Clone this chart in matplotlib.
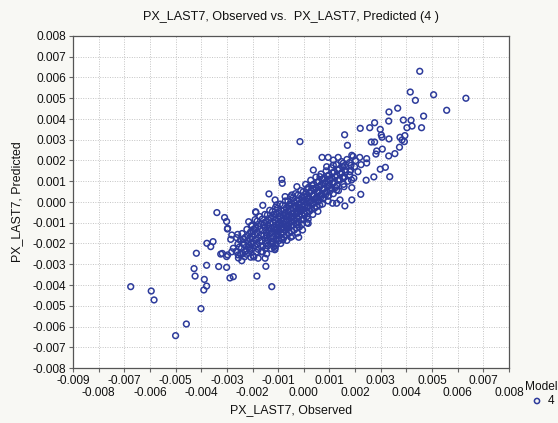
import numpy as np
import matplotlib
matplotlib.use("Agg")
import matplotlib.pyplot as plt

plt.rcParams['font.family'] = ['Liberation Sans', 'DejaVu Sans']

# ---------------- data (values in units of 0.001) ----------------
observed_milli = [
    # lower-left outliers
    -6.75, -5.95, -5.84, -5.00, -4.58, -4.01, -4.28, -4.24, -4.19, -3.88, -3.79, -3.90,
    -3.79, -3.78, -3.63, -3.54, -3.39, -3.09, -3.01, -2.98, -3.32, -3.01, -2.88, -2.75,
    -3.24, -3.18, -3.01, -2.85, -1.83, -1.87, -1.48, -1.25,
    -2.56, -2.81, -2.29, -2.10, -1.78, -1.51, -1.12, -2.75, -2.97, -2.58, -2.81, -2.97,
    -1.88, -0.86, -0.84, -1.36, -1.60, -1.10, -0.82, -0.51, -0.20,
    -1.12, -1.06, -0.73, -0.47, -0.27,
    # core
    -2.62, -2.57, -2.64, -2.55,
    -2.48, -2.52, -2.46,
    -2.41, -2.37, -2.43, -2.38, -2.42,
    -2.28, -2.33, -2.27, -2.31,
    -2.22, -2.18, -2.21, -2.16, -2.23,
    -2.08, -2.12, -2.06, -2.11, -2.07,
    -2.02, -1.97, -2.01, -1.96, -2.03, -1.98,
    -1.88, -1.92, -1.87, -1.91, -1.86,
    -1.82, -1.77, -1.81, -1.76, -1.83, -1.78,
    -1.68, -1.72, -1.67, -1.71, -1.66,
    -1.62, -1.57, -1.61, -1.56, -1.63, -1.58, -1.61,
    -1.48, -1.52, -1.47, -1.51, -1.46, -1.50,
    -1.42, -1.37, -1.41, -1.36, -1.43, -1.38, -1.41,
    -1.28, -1.32, -1.27, -1.31, -1.26, -1.30,
    -1.22, -1.17, -1.21, -1.16, -1.23, -1.18, -1.21, -1.17,
    -1.08, -1.12, -1.07, -1.11, -1.06, -1.10, -1.08,
    -1.02, -0.97, -1.01, -0.96, -1.03, -0.98, -1.01, -0.97,
    -0.88, -0.92, -0.87, -0.91, -0.86, -0.90, -0.88,
    -0.82, -0.77, -0.81, -0.76, -0.83, -0.78, -0.81, -0.77,
    -0.68, -0.72, -0.67, -0.71, -0.66, -0.70, -0.68,
    -0.62, -0.57, -0.61, -0.56, -0.63, -0.58, -0.61, -0.57,
    -0.48, -0.52, -0.47, -0.51, -0.46, -0.50, -0.48,
    -0.42, -0.37, -0.41, -0.36, -0.43, -0.38, -0.41, -0.37,
    -0.28, -0.32, -0.27, -0.31, -0.26, -0.30, -0.28,
    -0.22, -0.17, -0.21, -0.16, -0.23, -0.18, -0.21, -0.17,
    -0.08, -0.12, -0.07, -0.11, -0.06, -0.10, -0.08,
    -0.02, 0.03, -0.01, 0.04, -0.03, 0.02, -0.01,
    0.12, 0.08, 0.13, 0.09, 0.14, 0.10, 0.12,
    0.18, 0.23, 0.19, 0.24, 0.17, 0.22, 0.17, 0.17,
    0.32, 0.28, 0.33, 0.29, 0.34, 0.30,
    0.38, 0.43, 0.39, 0.44, 0.37, 0.42,
    0.52, 0.48, 0.53, 0.49, 0.54, 0.50,
    0.58, 0.63, 0.59, 0.64, 0.57, 0.62,
    0.72, 0.68, 0.73, 0.69, 0.74,
    0.78, 0.83, 0.79, 0.84, 0.77,
    0.92, 0.88, 0.93, 0.89, 0.94,
    0.98, 1.03, 0.99, 1.04, 0.97,
    1.12, 1.08, 1.13, 1.09,
    1.18, 1.23, 1.19, 1.24,
    1.32, 1.28, 1.33, 1.29,
    1.38, 1.43, 1.39,
    1.52, 1.48, 1.53,
    1.58, 1.63, 1.59,
    1.78, 1.83, 1.79,
    2.02, 1.98,
    2.18, 2.23,
    # core edges
    -2.15, -2.05, -1.90, -1.95, -1.72, -1.66, -1.52, -1.45, -1.33, -1.27, -1.10, -1.13,
    -0.93, -0.90, -0.72, -0.66, -0.52, -0.45, -0.33, -0.25, -0.12, -0.05, 0.07, 0.12,
    0.27, 0.35, 0.47, 0.55, 0.67, 0.73, 0.87, 0.95, 1.07, 1.15, 1.27, 1.35,
    1.47, 1.55, 1.68, 1.72, 1.92, 1.95,
    # core fill
    -1.55, -1.45, -1.35, -1.25, -1.15, -1.05, -0.95, -0.85, -0.75, -0.65, -0.55, -0.45,
    -0.35, -0.25, -0.15, -0.05, 0.05, 0.15, 0.25, 0.35, 0.45, 0.55, 0.65, 0.75,
    0.85, 0.95, 1.05, -2.35, -2.15, -1.95,
    # right of core / upper right
    1.15, 1.54, 1.84, 1.60, 1.80, 1.54, 1.86, 1.57, 1.28, 1.41, 1.12, 1.28,
    0.37, 0.89, 1.15, 0.63, 1.87, 2.22, 1.87, 1.60, 2.43, 2.73, 3.35, 3.18,
    2.98, 2.11, 2.45, 2.45, 1.87, 0.71, 0.95, 1.34, -0.15,
    1.59, 1.70, 2.63, 2.76, 2.84, 2.81, 3.06, 3.73, 3.55, 3.31, 3.32, 3.75,
    3.83, 3.92, 3.94, 2.98, 3.02, 3.05, 2.20, 2.57, 3.31, 2.76, 3.88, 4.18,
    4.02, 4.22, 4.59, 3.32, 3.66, 4.67, 4.35, 4.15, 5.06, 5.57, 6.32, 4.52,
]

predicted_milli = [
    # lower-left outliers
    -4.08, -4.29, -4.72, -6.44, -5.88, -5.14, -3.21, -3.57, -2.47, -3.73, -4.05, -4.24,
    -3.05, -1.99, -2.15, -1.91, -0.51, -0.75, -0.94, -1.30, -3.11, -3.15, -3.66, -3.60,
    -2.51, -2.48, -2.63, -1.80, -3.57, -0.50, -3.10, -4.08,
    -2.55, -2.40, -2.40, -2.23, -2.71, -2.71, -2.23, -2.23, -2.55, -1.56, -1.59, -1.27,
    -0.47, 1.09, 0.90, 0.39, -0.16, -2.11, -1.83, -1.70, -1.70,
    0.10, -0.14, 0.26, 0.34, 0.74,
    # core
    -1.72, -2.02, -2.38, -2.70,
    -1.85, -2.18, -2.52,
    -1.52, -1.95, -2.22, -2.48, -2.83,
    -1.70, -2.05, -2.35, -2.64,
    -1.32, -1.62, -1.88, -2.18, -2.52,
    -1.45, -1.75, -2.02, -2.33, -2.66,
    -1.12, -1.42, -1.68, -1.98, -2.28, -2.58,
    -1.25, -1.55, -1.82, -2.12, -2.42,
    -0.92, -1.18, -1.48, -1.74, -2.02, -2.28,
    -1.05, -1.32, -1.60, -1.88, -2.15,
    -0.82, -1.12, -1.36, -1.62, -1.86, -2.12, -2.40,
    -0.95, -1.22, -1.48, -1.74, -2.00, -2.25,
    -0.62, -0.88, -1.14, -1.38, -1.62, -1.86, -2.12,
    -0.75, -1.02, -1.28, -1.52, -1.76, -2.00,
    -0.45, -0.74, -0.98, -1.22, -1.42, -1.66, -1.90, -2.16,
    -0.58, -0.86, -1.10, -1.32, -1.55, -1.78, -2.02,
    -0.30, -0.56, -0.80, -1.00, -1.22, -1.42, -1.62, -1.86,
    -0.42, -0.68, -0.90, -1.12, -1.32, -1.54, -1.76,
    -0.15, -0.40, -0.62, -0.82, -1.02, -1.22, -1.46, -1.70,
    -0.28, -0.52, -0.72, -0.94, -1.14, -1.36, -1.58,
    0.05, -0.20, -0.44, -0.66, -0.86, -1.06, -1.26, -1.50,
    -0.08, -0.32, -0.55, -0.76, -0.96, -1.16, -1.40,
    0.20, -0.05, -0.30, -0.50, -0.70, -0.90, -1.10, -1.35,
    0.08, -0.18, -0.40, -0.60, -0.80, -1.02, -1.25,
    0.35, 0.10, -0.10, -0.30, -0.50, -0.70, -0.95, -1.20,
    0.22, -0.02, -0.22, -0.42, -0.62, -0.86, -1.08,
    0.50, 0.25, 0.05, -0.15, -0.35, -0.55, -0.80,
    0.62, 0.38, 0.15, -0.05, -0.26, -0.48, -0.70,
    0.70, 0.45, 0.20, 0.00, -0.20, -0.45, -0.83, -1.03,
    0.80, 0.55, 0.30, 0.08, -0.12, -0.35,
    0.85, 0.60, 0.35, 0.15, -0.05, -0.30,
    0.95, 0.70, 0.45, 0.22, 0.02, -0.22,
    1.00, 0.75, 0.50, 0.30, 0.10, -0.15,
    1.10, 0.85, 0.60, 0.38, 0.15,
    1.15, 0.90, 0.65, 0.45, 0.20,
    1.25, 1.00, 0.75, 0.50, 0.28,
    1.30, 1.05, 0.80, 0.55, 0.30,
    1.40, 1.15, 0.90, 0.65,
    1.45, 1.20, 0.95, 0.70,
    1.55, 1.30, 1.05, 0.80,
    1.60, 1.35, 1.10,
    1.70, 1.42, 1.15,
    1.75, 1.45, 1.20,
    1.90, 1.55, 1.30,
    2.00, 1.70,
    2.15, 1.80,
    # core edges
    -0.95, -1.15, -0.85, -2.65, -0.70, -2.40, -0.60, -2.50, -0.40, -2.25, -0.25, -2.30,
    -0.10, -2.00, 0.05, -1.85, 0.25, -1.65, 0.40, -1.50, 0.55, -1.35, 0.85, -1.00,
    1.05, -0.60, 1.20, -0.45, 1.35, -0.10, 1.50, 0.05, 1.65, 0.40, 1.80, 0.55,
    1.95, 0.85, 2.05, 1.00, 2.20, 1.15,
    # core fill
    -1.00, -1.60, -1.25, -1.90, -0.60, -1.45, -0.70, -1.25, -0.55, -1.20, -0.10, -0.75,
    -0.20, -1.10, -0.40, 0.10, -0.60, 0.30, -0.30, 0.65, 0.00, 0.55, 0.20, 0.90,
    0.35, 1.10, 0.70, -1.80, -2.05, -1.30,
    # right of core / upper right
    2.02, 1.87, 1.77, 1.54, 1.46, 1.22, 1.06, 0.74, 0.58, 0.10, -0.06, -0.06,
    1.54, 1.70, 1.78, 1.22, 0.69, 0.37, 0.10, -0.19, 1.05, 1.21, 1.22, 1.67,
    1.58, 1.46, 2.09, 1.88, 2.25, 2.15, 2.15, 2.15, 2.91,
    3.24, 2.73, 2.89, 2.89, 2.46, 2.31, 2.55, 2.64, 2.33, 2.22, 3.04, 3.12,
    2.99, 2.91, 3.20, 3.50, 3.23, 3.12, 3.55, 3.58, 3.90, 3.82, 3.95, 3.94,
    3.58, 3.66, 3.58, 4.34, 4.52, 4.14, 4.90, 5.30, 5.17, 4.42, 5.00, 6.30,
]

x_tick_values = [-0.009, -0.008, -0.007, -0.006, -0.005, -0.004, -0.003, -0.002, -0.001,
                 0.000, 0.001, 0.002, 0.003, 0.004, 0.005, 0.006, 0.007, 0.008]
x_tick_labels = ['-0.009', '-0.008', '-0.007', '-0.006', '-0.005', '-0.004', '-0.003',
                 '-0.002', '-0.001', '0.000', '0.001', '0.002', '0.003', '0.004',
                 '0.005', '0.006', '0.007', '0.008']
y_tick_values = [-0.008, -0.007, -0.006, -0.005, -0.004, -0.003, -0.002, -0.001, 0.000,
                 0.001, 0.002, 0.003, 0.004, 0.005, 0.006, 0.007, 0.008]
y_tick_labels = ['-0.008', '-0.007', '-0.006', '-0.005', '-0.004', '-0.003', '-0.002',
                 '-0.001', '0.000', '0.001', '0.002', '0.003', '0.004', '0.005', '0.006',
                 '0.007', '0.008']

title = "PX_LAST7, Observed vs.  PX_LAST7, Predicted (4 )"
x_label = "PX_LAST7, Observed"
y_label = "PX_LAST7, Predicted"
legend_title = "Model"
series_name = "4"

observed = np.array(observed_milli) * 1e-3
predicted = np.array(predicted_milli) * 1e-3

# ---------------- figure ----------------
W, H = 558, 423
bg = '#f8f8f4'
mcolor = '#2d3b9b'
fig = plt.figure(figsize=(W / 100, H / 100), dpi=100, facecolor=bg)
ax = fig.add_axes([73 / W, 1 - 368 / H, (509 - 73) / W, (368 - 36) / H])
ax.set_facecolor('white')

ax.scatter(observed, predicted, s=17, facecolors='none', edgecolors=mcolor,
           linewidths=1.1, zorder=3)

ax.set_xlim(-0.009, 0.008)
ax.set_ylim(-0.008, 0.008)
# staggered x labels: odd positions on the upper row (major), even on the lower row (minor)
ax.set_xticks(x_tick_values[0::2])
ax.set_xticklabels(x_tick_labels[0::2])
ax.set_xticks(x_tick_values[1::2], minor=True)
ax.set_xticklabels(x_tick_labels[1::2], minor=True)
ax.set_yticks(y_tick_values)
ax.set_yticklabels(y_tick_labels)
ax.tick_params(axis='both', which='both', direction='out', length=3, width=0.8,
               color='#666666', labelsize=8.6, labelcolor='#111111', pad=2)
ax.tick_params(axis='x', which='minor', pad=11)
ax.grid(True, which='both', linestyle=(0, (1, 1.5)), linewidth=0.7, color='#c4c4c4', zorder=0)
for sp in ax.spines.values():
    sp.set_color('#555555')
    sp.set_linewidth(0.9)

fig.text(291 / W, 1 - 17 / H, title, ha='center', va='center', fontsize=9.1, color='#111111')
fig.text(291 / W, 1 - 410 / H, x_label, ha='center', va='center', fontsize=8.9, color='#111111')
fig.text(17 / W, 1 - 202 / H, y_label, ha='center', va='center', rotation=90,
         fontsize=8.9, color='#111111')

# legend
fig.text(525 / W, 1 - 387 / H, legend_title, ha='left', va='center', fontsize=8.6, color='#111111')
leg_ax = fig.add_axes([0, 0, 1, 1], facecolor='none')
leg_ax.set_xlim(0, W)
leg_ax.set_ylim(H, 0)
leg_ax.axis('off')
leg_ax.scatter([537], [401], s=14, facecolors='none', edgecolors=mcolor, linewidths=1.1)
fig.text(548 / W, 1 - 401 / H, series_name, ha='left', va='center', fontsize=8.6, color='#111111')

fig.savefig('out.png', dpi=100, facecolor=bg)
